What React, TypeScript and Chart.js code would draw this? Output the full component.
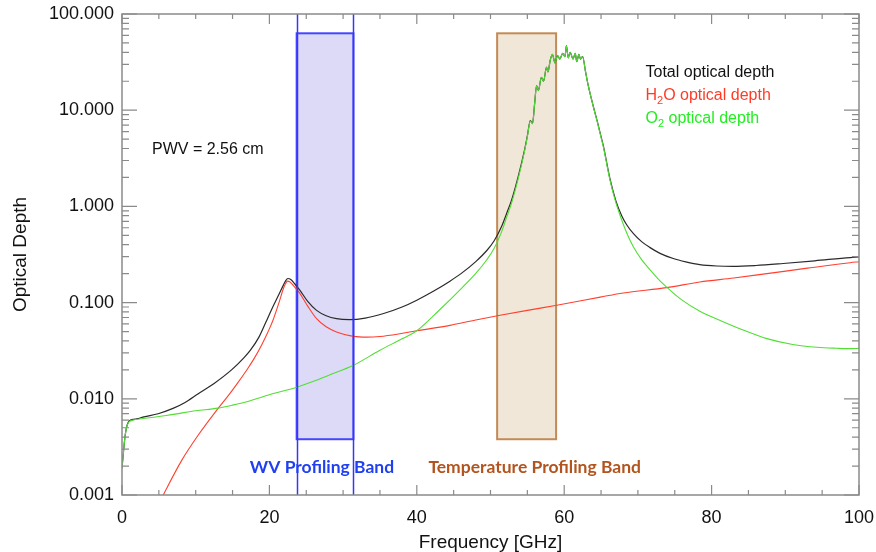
import React, { useEffect, useRef } from "react";
import { Chart, registerables } from "chart.js";

Chart.register(...registerables);

// ---- data ----
const totalFreq = [0, 0.2, 0.4, 0.6, 0.8, 1, 1.5, 2, 3, 4.9,
  7, 8.5, 10.35, 12.5, 14.9, 16.5, 17.4, 18.6, 19.5, 20.3,
  21.3, 21.9, 22.2, 22.5, 22.9, 23.4, 24.15, 25.2, 26.4, 27.7,
  29.1, 30.9, 33, 35.5, 38, 40, 42.3, 44.5, 46, 48,
  49.5, 50.5, 51.5, 52.2, 52.9, 53.8, 54.6, 55.0, 55.4,
  55.7, 56.0, 56.25, 56.5, 56.9, 57.2, 57.6, 57.8, 58.1, 58.4,
  58.75, 59.1, 59.4, 59.8, 60.1, 60.3, 60.55, 60.8, 61.2, 61.5,
  61.7, 62.0, 62.2, 62.5, 62.9, 63.2, 63.6, 64.0, 64.5, 64.9,
  65.3, 66.2, 67.0, 67.8, 68.5, 69.4, 70.5, 71.6, 73.0, 74.8,
  76.5, 78.4, 80.7, 82.9, 86, 89.7, 94, 98.8, 100];
const totalDepth = [0.0019, 0.0028, 0.0040, 0.0050, 0.0056, 0.0059, 0.0061, 0.0062, 0.0065, 0.0070,
  0.0080, 0.0091, 0.0113, 0.01445, 0.0201, 0.0265, 0.0318, 0.044, 0.062, 0.085,
  0.122, 0.152, 0.168, 0.178, 0.174, 0.158, 0.134, 0.103, 0.083, 0.073,
  0.068, 0.0665, 0.069, 0.077, 0.090, 0.106, 0.132, 0.167, 0.20, 0.267,
  0.348, 0.44, 0.617, 0.85, 1.19, 2.1, 3.8, 5.4, 7.8,
  7.3, 12, 18, 16, 22, 20, 28, 25, 33, 38,
  31, 37, 34, 39, 36, 47, 35, 40, 34, 39,
  32, 38, 34, 36, 25, 19, 14, 10.6, 7.6, 5.7,
  4.3, 1.95, 1.15, 0.80, 0.64, 0.52, 0.43, 0.375, 0.325, 0.287,
  0.265, 0.248, 0.240, 0.238, 0.243, 0.255, 0.272, 0.294, 0.298];

const h2oFreq = [3.5, 5.6, 8.1, 10.35, 13.07, 14.5, 15.8, 17.0, 18.0, 19.0,
  19.8, 20.5, 21.3, 21.9, 22.2, 22.45, 22.75, 23.2, 23.7, 24.15,
  25.2, 26.4, 27.7, 29.1, 31.4, 33.2, 35, 37.7, 40, 44.5,
  48, 51.3, 55, 59, 64.9, 68.0, 73.9, 78.4, 83, 87.5,
  93, 98.8, 100];
const h2oDepth = [0.00048, 0.0010, 0.00229, 0.0042, 0.0080, 0.0110, 0.0150, 0.0203, 0.0268, 0.0370,
  0.0495, 0.066, 0.100, 0.140, 0.158, 0.167, 0.165, 0.152, 0.137, 0.124,
  0.092, 0.068, 0.056, 0.0496, 0.0446, 0.0438, 0.0445, 0.0475, 0.051, 0.058,
  0.066, 0.0738, 0.083, 0.0937, 0.114, 0.126, 0.143, 0.164, 0.18, 0.20,
  0.228, 0.26, 0.266];

const o2Freq = [0, 0.2, 0.4, 0.6, 0.8, 1, 1.5, 2, 4, 6,
  8, 10, 13, 15, 17.3, 20, 23.7, 26, 28, 31.4,
  35, 38, 40, 43, 46, 48, 49.5, 50.5,
  51.5, 52.2, 52.9, 53.8, 54.6, 55.0, 55.4, 55.7, 56.0, 56.25,
  56.5, 56.9, 57.2, 57.6, 57.8, 58.1, 58.4, 58.75, 59.1, 59.4,
  59.8, 60.1, 60.3, 60.55, 60.8, 61.2, 61.5, 61.7, 62.0, 62.2,
  62.5, 62.9, 63.2, 63.6, 64.0, 64.5, 64.9, 65.3, 66.2, 66.9,
  67.6, 68.5, 69.4, 70.5, 71.6, 72.7, 73.9, 76, 78.4, 80.7,
  84, 87.5, 91, 94.3, 97, 98.8, 100];
const o2Depth = [0.0019, 0.0028, 0.0040, 0.0050, 0.0055, 0.0058, 0.0060, 0.0061, 0.0064, 0.0067,
  0.0071, 0.0075, 0.0080, 0.0086, 0.0095, 0.0110, 0.0132, 0.0152, 0.0175, 0.0223,
  0.032, 0.042, 0.051, 0.0828, 0.139, 0.201, 0.279, 0.367,
  0.543, 0.776, 1.11, 2.0, 3.7, 5.3, 7.7, 7.2, 12, 18,
  16, 22, 20, 28, 25, 33, 38, 31, 37, 34,
  39, 36, 47, 35, 40, 34, 39, 32, 38, 34,
  36, 25, 19, 14, 10.5, 7.5, 5.6, 4.2, 1.9, 1.17,
  0.80, 0.526, 0.378, 0.28, 0.222, 0.178, 0.145, 0.106, 0.0813, 0.0675,
  0.0528, 0.0422, 0.0367, 0.0343, 0.0335, 0.0332, 0.0334];

const xTickValues = [0, 20, 40, 60, 80, 100];
const yTickValues = [0.001, 0.01, 0.1, 1, 10, 100];
const yTickLabels = ["0.001", "0.010", "0.100", "1.000", "10.000", "100.000"];

const wvBand = [23.7, 31.4];
const tempBand = [50.9, 58.9];
const bandDepthRange = [0.0038, 63];

const FONT = "'Liberation Sans', Arial, Helvetica, sans-serif";

const toPoints = (xs: number[], ys: number[]) => xs.map((x, i) => ({ x, y: ys[i] }));

const decorPlugin = {
  id: "decor",
  beforeDatasetsDraw(chart: any) {
    const { ctx, scales } = chart;
    const x = scales.x, y = scales.y;
    const yTop = y.getPixelForValue(bandDepthRange[1]);
    const yBot = y.getPixelForValue(bandDepthRange[0]);
    const drawBand = (band: number[], fill: string, stroke: string) => {
      const x0 = x.getPixelForValue(band[0]);
      const x1 = x.getPixelForValue(band[1]);
      ctx.save();
      ctx.fillStyle = fill;
      ctx.fillRect(x0, yTop, x1 - x0, yBot - yTop);
      ctx.strokeStyle = stroke;
      ctx.lineWidth = 2;
      ctx.strokeRect(x0, yTop, x1 - x0, yBot - yTop);
      ctx.restore();
    };
    drawBand(wvBand, "#dcdaf6", "#4646ff");
    drawBand(tempBand, "#f1e7d8", "#c48a55");
  },
  afterDatasetsDraw(chart: any) {
    const { ctx, chartArea: a, scales } = chart;
    const x = scales.x;
    ctx.save();
    ctx.strokeStyle = "#3535ff";
    ctx.lineWidth = 1.5;
    wvBand.forEach((f) => {
      const px = Math.round(x.getPixelForValue(f)) + 0.5;
      ctx.beginPath();
      ctx.moveTo(px, a.top);
      ctx.lineTo(px, a.bottom);
      ctx.stroke();
    });
    ctx.restore();
  },
  afterDraw(chart: any) {
    const { ctx, chartArea: a, scales } = chart;
    const x = scales.x, y = scales.y;
    ctx.save();
    // frame
    ctx.strokeStyle = "#8a8a8a";
    ctx.lineWidth = 1.5;
    ctx.strokeRect(a.left, a.top, a.right - a.left, a.bottom - a.top);
    // x ticks (inward, bottom and top)
    ctx.lineWidth = 1.2;
    for (let v = 0; v <= 100; v += 5) {
      const px = x.getPixelForValue(v);
      const len = v % 20 === 0 ? 10 : 5;
      ctx.beginPath();
      ctx.moveTo(px, a.bottom);
      ctx.lineTo(px, a.bottom - len);
      ctx.moveTo(px, a.top);
      ctx.lineTo(px, a.top + len);
      ctx.stroke();
    }
    // y ticks (log, inward, left and right)
    for (let d = -3; d <= 2; d++) {
      for (let k = 1; k <= 9; k++) {
        const v = k * Math.pow(10, d);
        if (v > 100.0001) break;
        const py = y.getPixelForValue(v);
        const len = k === 1 ? 15 : 7;
        ctx.beginPath();
        ctx.moveTo(a.left, py);
        ctx.lineTo(a.left + len, py);
        ctx.moveTo(a.right, py);
        ctx.lineTo(a.right - len, py);
        ctx.stroke();
      }
    }
    // axis titles
    ctx.fillStyle = "#111";
    ctx.font = `19px ${FONT}`;
    ctx.textAlign = "center";
    ctx.textBaseline = "alphabetic";
    ctx.fillText("Frequency [GHz]", (a.left + a.right) / 2, 548);
    ctx.save();
    ctx.translate(26, (a.top + a.bottom) / 2);
    ctx.rotate(-Math.PI / 2);
    ctx.fillText("Optical Depth", 0, 0);
    ctx.restore();

    // annotations
    ctx.textAlign = "left";
    ctx.font = `16px ${FONT}`;
    ctx.fillStyle = "#111";
    ctx.fillText("PWV = 2.56 cm", 152, 153.5);

    const drawSub = (parts: { t: string; sub?: boolean }[], px: number, py: number, color: string) => {
      ctx.fillStyle = color;
      let cx = px;
      parts.forEach((p) => {
        ctx.font = p.sub ? `11px ${FONT}` : `16px ${FONT}`;
        ctx.fillText(p.t, cx, p.sub ? py + 4 : py);
        cx += ctx.measureText(p.t).width;
      });
    };
    drawSub([{ t: "Total optical depth" }], 645.5, 76.5, "#111");
    drawSub([{ t: "H" }, { t: "2", sub: true }, { t: "O optical depth" }], 645.5, 99.5, "#ff3b26");
    drawSub([{ t: "O" }, { t: "2", sub: true }, { t: " optical depth" }], 645.5, 123, "#22ee22");

    ctx.textAlign = "center";
    ctx.font = `bold 17.5px Lato, 'Open Sans', sans-serif`;
    ctx.fillStyle = "#1f3ff2";
    ctx.fillText("WV Profiling Band", 322, 473.3);
    ctx.fillStyle = "#b3541e";
    ctx.fillText("Temperature Profiling Band", 534.7, 473.3);
    ctx.restore();
  },
};

export default function App() {
  const canvasRef = useRef<HTMLCanvasElement | null>(null);

  useEffect(() => {
    if (!canvasRef.current) return;
    const chart = new Chart(canvasRef.current, {
      type: "line",
      data: {
        datasets: [
          {
            label: "O2 optical depth",
            data: toPoints(o2Freq, o2Depth),
            borderColor: "#52de35",
            borderWidth: 1.1,
            pointRadius: 0,
            cubicInterpolationMode: "monotone",
          },
          {
            label: "H2O optical depth",
            data: toPoints(h2oFreq, h2oDepth),
            borderColor: "#ff4030",
            borderWidth: 1.1,
            pointRadius: 0,
            cubicInterpolationMode: "monotone",
          },
          {
            label: "Total optical depth",
            data: toPoints(totalFreq, totalDepth),
            borderColor: "#2a2a2a",
            borderWidth: 1.2,
            pointRadius: 0,
            cubicInterpolationMode: "monotone",
          },
        ],
      },
      options: {
        responsive: false,
        animation: false,
        devicePixelRatio: 1,
        layout: { padding: { top: 14, right: 17, left: 0, bottom: 0 } },
        plugins: { legend: { display: false }, tooltip: { enabled: false } },
        scales: {
          x: {
            type: "linear",
            min: 0,
            max: 100,
            grid: { display: false, drawTicks: false, tickLength: 0 },
            border: { display: false },
            afterBuildTicks: (s: any) => {
              s.ticks = xTickValues.map((v) => ({ value: v }));
            },
            ticks: {
              font: { family: FONT, size: 18 },
              color: "#111",
              padding: 12,
              maxRotation: 0,
              autoSkip: false,
            },
            afterFit: (s: any) => {
              s.height = 57;
              s.paddingLeft = 0;
              s.paddingRight = 0;
            },
          },
          y: {
            type: "logarithmic",
            min: 0.001,
            max: 100,
            grid: { display: false, drawTicks: false, tickLength: 0 },
            border: { display: false },
            afterBuildTicks: (s: any) => {
              s.ticks = yTickValues.map((v) => ({ value: v }));
            },
            ticks: {
              font: { family: FONT, size: 18 },
              color: "#111",
              padding: 8,
              autoSkip: false,
              callback: (_v: any, i: number) => yTickLabels[i],
            },
            afterFit: (s: any) => {
              s.width = 122;
              s.paddingTop = 0;
              s.paddingBottom = 0;
            },
          },
        },
      } as any,
      plugins: [decorPlugin],
    });
    return () => chart.destroy();
  }, []);

  return (
    <div style={{ position: "absolute", left: 0, top: 0, width: 876, height: 552, background: "#fff" }}>
      <canvas ref={canvasRef} width={876} height={552} />
    </div>
  );
}
